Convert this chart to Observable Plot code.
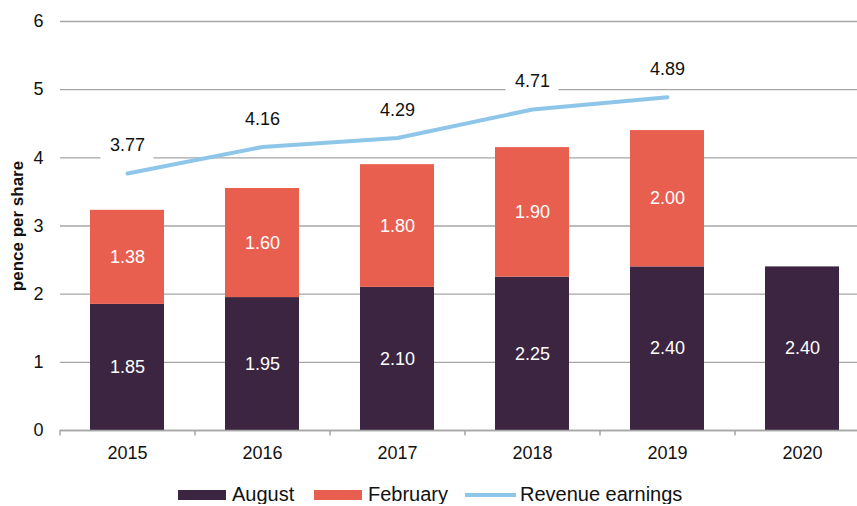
<!DOCTYPE html>
<html>
<head>
<meta charset="utf-8">
<script src="https://cdn.jsdelivr.net/npm/d3@7"></script>
<script src="https://cdn.jsdelivr.net/npm/@observablehq/plot@0.6"></script>
<style>
  body { margin: 0; background: #fff; font-family: "Liberation Sans", Arial, sans-serif; }
  #chart svg { display: block; }
  .legend { position: relative; height: 19px; font-size: 20px; line-height: 19px; color: #111; margin-top: -2px; }
  .legend .item { position: absolute; top: 0; display: flex; align-items: center; height: 19px; white-space: nowrap; }
  .legend .sw { width: 48px; height: 10px; margin-right: 6px; }
  .legend .ln { width: 51px; height: 4px; margin-right: 4px; }
</style>
</head>
<body>
<div id="chart"></div>
<div class="legend">
  <div class="item" style="left:178px"><span class="sw" style="background:#3c2541"></span>August</div>
  <div class="item" style="left:314px"><span class="sw" style="background:#e85e4f"></span>February</div>
  <div class="item" style="left:465px"><span class="ln" style="background:#8ec6ea"></span>Revenue earnings</div>
</div>
<script>
const years = ["2015", "2016", "2017", "2018", "2019", "2020"];
const august = [1.85, 1.95, 2.10, 2.25, 2.40, 2.40];
const february = [1.38, 1.60, 1.80, 1.90, 2.00, null];
const revenue = [3.77, 4.16, 4.29, 4.71, 4.89, null];
const yTicks = [0, 1, 2, 3, 4, 5, 6];
const yLabel = "pence per share";

const rows = years.map((year, i) => ({year, aug: august[i], feb: february[i], rev: revenue[i]}));
const febRows = rows.filter(d => d.feb != null);
const revRows = rows.filter(d => d.rev != null);

const colAug = "#3c2541", colFeb = "#e85e4f", colRev = "#8ec6ea", gridCol = "#a6a6a6";

const chart = Plot.plot({
  width: 857,
  height: 487,
  marginLeft: 60,
  marginRight: 0,
  marginTop: 21,
  marginBottom: 57,
  style: {fontFamily: "'Liberation Sans', Arial, sans-serif", fontSize: "18px", color: "#111", background: "#fff"},
  x: {domain: years, range: [60, 870], paddingInner: 0.45, paddingOuter: 0.225, label: null},
  y: {domain: [0, 6], label: null},
  marks: [
    Plot.gridY(yTicks, {stroke: gridCol, strokeOpacity: 1, strokeWidth: 1.3}),
    Plot.barY(rows, {x: "year", y1: 0, y2: "aug", fill: colAug}),
    Plot.barY(febRows, {x: "year", y1: "aug", y2: d => d.aug + d.feb, fill: colFeb}),
    Plot.ruleY([0], {stroke: gridCol, strokeWidth: 1.5}),
    Plot.ruleX(years, {x: d => d, y1: 0, y2: -0.08, dx: -67.5, stroke: gridCol, strokeWidth: 1.5}),
    Plot.axisY(yTicks, {tickSize: 0, tickPadding: 17, label: null, fontSize: 18, tickFormat: d3.format("d")}),
    Plot.axisX({tickSize: 0, tickPadding: 16, label: null, fontSize: 18}),
    Plot.text(rows, {x: "year", y: d => d.aug / 2, text: d => d.aug.toFixed(2), fill: "white", fontSize: 18}),
    Plot.text(febRows, {x: "year", y: d => d.aug + d.feb / 2, text: d => d.feb.toFixed(2), fill: "white", fontSize: 18}),
    Plot.line(revRows, {x: "year", y: "rev", stroke: colRev, strokeWidth: 4}),
    Plot.barY(revRows, {x: "year", y1: d => d.rev + 0.2, y2: d => d.rev + 0.63, fill: "white", insetLeft: 10.5, insetRight: 10.5}),
    Plot.text(revRows, {x: "year", y: "rev", dy: -28, text: d => d.rev.toFixed(2), fill: "#111", fontSize: 18}),
    Plot.text([yLabel], {frameAnchor: "left", dx: -43, rotate: -90, textAnchor: "middle", text: d => d, fontWeight: "bold", fontSize: 17, fill: "#111"})
  ]
});
document.getElementById("chart").append(chart);
</script>
</body>
</html>
